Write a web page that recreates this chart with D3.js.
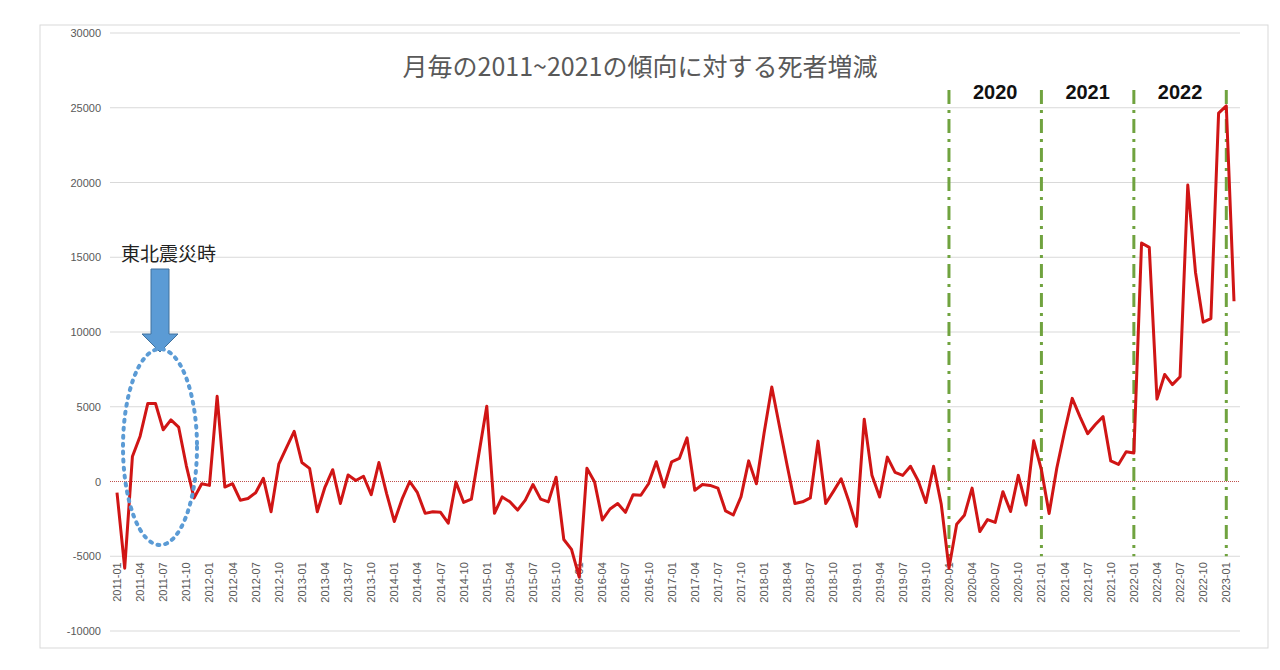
<!DOCTYPE html><html><head><meta charset="utf-8"><script src="https://cdn.jsdelivr.net/npm/d3@7/dist/d3.min.js"></script>
<style>body{margin:0;background:#fff}</style></head><body><svg id="c" width="1280" height="670"></svg>
<script>
const startYear=2011, startMonth=1;
const values=[-750,-5800,1670,3030,5220,5220,3460,4120,3640,1050,-1100,-150,
-260,5700,-370,-150,-1250,-1140,-750,220,-2020,1160,2260,3360,
1270,880,-2020,-370,790,-1470,440,70,350,-880,1270,-810,
-2680,-1180,0,-750,-2130,-2020,-2060,-2790,-40,-1400,-1180,1930,
5040,-2130,-1030,-1360,-1910,-1250,-200,-1180,-1360,290,-3880,-4540,
-6400,880,-40,-2570,-1840,-1470,-2060,-880,-920,-150,1320,-370,
1320,1540,2920,-590,-200,-260,-440,-1970,-2240,-1030,1380,-150,
3250,6320,3680,1050,-1470,-1360,-1100,2700,-1470,-660,180,-1320,
-3000,4170,410,-1040,1630,610,410,1020,50,-1410,1020,-1530,
-5800,-2860,-2260,-440,-3350,-2550,-2740,-680,-2010,410,-1580,2720,
780,-2140,900,3330,5560,4340,3200,3810,4340,1380,1140,1990,
1900,15950,15660,5510,7160,6480,7010,19830,14000,10660,10900,24640,
25120,12060];
const yTicks=[-10000,-5000,0,5000,10000,15000,20000,25000,30000];
const yearMarks=["2020-01","2021-01","2022-01","2023-01"];
const yearLabels=["2020","2021","2022"];
const title="月毎の2011~2021の傾向に対する死者増減";
const note="東北震災時";
const labels=values.map((v,i)=>{const m=(startMonth-1+i);return (startYear+Math.floor(m/12))+"-"+String(m%12+1).padStart(2,"0");});
const svg=d3.select("#c");
svg.append("rect").attr("x",40).attr("y",25).attr("width",1228).attr("height",623).attr("fill","none").attr("stroke","#d9d9d9");
const x=d3.scalePoint().domain(labels).range([117,1234]);
const y=d3.scaleLinear().domain([-10000,30000]).range([631,33]);
const f="Liberation Sans, Arial, sans-serif";
svg.append("g").selectAll("line").data(yTicks).join("line").attr("x1",110).attr("x2",1240)
 .attr("y1",d=>y(d)).attr("y2",d=>y(d)).attr("stroke","#d9d9d9").attr("stroke-width",d=>d===0?0:1);
svg.append("g").selectAll("text").data(yTicks).join("text").attr("x",101).attr("y",d=>y(d)+4)
 .attr("text-anchor","end").attr("font-family",f).attr("font-size",11).attr("fill","#595959").text(d=>d);
svg.append("line").attr("x1",110).attr("x2",1240).attr("y1",y(0)).attr("y2",y(0)).attr("stroke","#c0504d").attr("stroke-dasharray","1,1").attr("stroke-width",1);
const tl=labels.filter((d,i)=>i%3===0);
svg.append("g").selectAll("text").data(tl).join("text").attr("font-family",f).attr("font-size",11).attr("fill","#595959")
 .attr("text-anchor","end").attr("transform",d=>`translate(${x(d)+4},${y(-5000)+6}) rotate(-90)`).text(d=>d);
svg.append("g").selectAll("line").data(yearMarks).join("line").attr("x1",d=>x(d)).attr("x2",d=>x(d)).attr("y1",90).attr("y2",y(-5000))
 .attr("stroke","#70a33f").attr("stroke-width",3).attr("stroke-dasharray","14,6,3,6");
svg.append("g").selectAll("text").data(yearLabels).join("text").attr("x",(d,i)=>(x(yearMarks[i])+x(yearMarks[i+1]))/2).attr("y",99)
 .attr("text-anchor","middle").attr("font-family",f).attr("font-weight","bold").attr("font-size",20).attr("fill","#111").text(d=>d);
svg.append("path").datum(values).attr("fill","none").attr("stroke","#d01515").attr("stroke-width",3).attr("stroke-linejoin","round")
 .attr("d",d3.line().x((d,i)=>x(labels[i])).y(d=>y(d)));
svg.append("text").attr("x",640).attr("y",76).attr("text-anchor","middle").attr("font-family","Noto Sans CJK JP").attr("font-size",25).attr("fill","#595959").text(title);
svg.append("text").attr("x",121).attr("y",261).attr("font-family","Noto Sans CJK JP").attr("font-size",19).attr("fill","#222").text(note);
svg.append("path").attr("d","M151,269 H169 V334 H178 L160,352 L142,334 H151 Z").attr("fill","#5b9bd5").attr("stroke","#41719c");
svg.append("ellipse").attr("cx",160).attr("cy",447).attr("rx",37).attr("ry",98).attr("fill","none").attr("stroke","#5b9bd5").attr("stroke-width",4).attr("stroke-dasharray","2,6").attr("stroke-linecap","round");
</script></body></html>
